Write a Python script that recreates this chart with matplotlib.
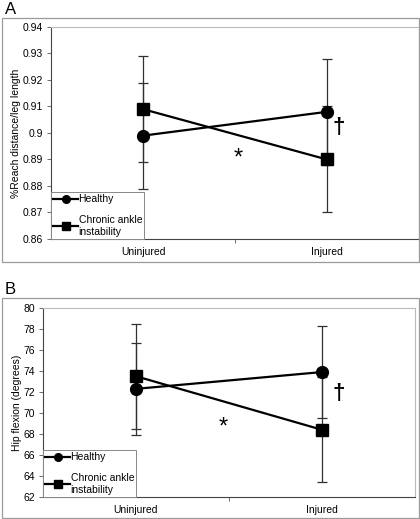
import matplotlib
matplotlib.use("Agg")
import matplotlib.pyplot as plt
from matplotlib.patches import Rectangle
from matplotlib.lines import Line2D

plt.rcParams['font.family'] = ['Liberation Sans', 'DejaVu Sans']

# ---- data ----
conditions = ["Uninjured", "Injured"]
groups = ["Healthy", "Chronic ankle\ninstability"]

reach_healthy = [0.899, 0.908]
reach_healthy_sd = [0.020, 0.020]
reach_cai = [0.909, 0.890]
reach_cai_sd = [0.020, 0.020]
reach_ticks = [0.86, 0.87, 0.88, 0.89, 0.90, 0.91, 0.92, 0.93, 0.94]
reach_ticklabels = ["0.86", "0.87", "0.88", "0.89", "0.9", "0.91", "0.92", "0.93", "0.94"]

hip_healthy = [72.3, 73.9]
hip_healthy_sd = [4.4, 4.4]
hip_cai = [73.5, 68.4]
hip_cai_sd = [5.0, 5.0]
hip_ticks = [62, 64, 66, 68, 70, 72, 74, 76, 78, 80]
hip_ticklabels = ["62", "64", "66", "68", "70", "72", "74", "76", "78", "80"]

W, H = 420, 519
fig = plt.figure(figsize=(W / 100, H / 100), dpi=100)
FS = 7.5


def fx(px):
    return px / W


def fy(py):
    return 1 - py / H


def frame(x0, y0, x1, y1):
    fig.patches.append(Rectangle((fx(x0), fy(y1)), fx(x1) - fx(x0), fy(y0) - fy(y1),
                                 transform=fig.transFigure, fill=False,
                                 edgecolor="#9a9a9a", linewidth=0.9))


def panel(rect, healthy, hsd, cai, csd, ticks, ticklabels, ylabel, star, dagger, letter, letter_xy):
    l, t, r, b = rect
    ax = fig.add_axes([fx(l), fy(b), fx(r) - fx(l), fy(t) - fy(b)])
    x = list(range(len(conditions)))
    ax.errorbar(x, healthy, yerr=hsd, fmt='none', ecolor='#303030', elinewidth=0.9,
                capsize=3.5, capthick=0.9, zorder=2)
    ax.errorbar(x, cai, yerr=csd, fmt='none', ecolor='#303030', elinewidth=0.9,
                capsize=3.5, capthick=0.9, zorder=2)
    ax.plot(x, cai, color='black', lw=1.6, marker='s', markersize=8.5, zorder=3)
    ax.plot(x, healthy, color='black', lw=1.6, marker='o', markersize=8.5, zorder=4)
    ax.set_xlim(-0.5, 1.5)
    ax.set_ylim(ticks[0], ticks[-1])
    ax.set_yticks(ticks)
    ax.set_yticklabels(ticklabels)
    ax.set_xticks(x)
    ax.set_xticklabels(conditions)
    ax.set_xticks([0.5], minor=True)
    ax.tick_params(axis='x', which='major', length=0, pad=6, labelsize=FS)
    ax.tick_params(axis='x', which='minor', length=3, width=0.6, color='#555555')
    ax.tick_params(axis='y', length=3, width=0.6, color='#555555', labelsize=FS, pad=3)
    for s in ['left', 'bottom']:
        ax.spines[s].set_color('#444444')
        ax.spines[s].set_linewidth(0.8)
    for s in ['top', 'right']:
        ax.spines[s].set_color('#bbbbbb')
        ax.spines[s].set_linewidth(0.8)
    ax.set_ylabel(ylabel, fontsize=FS, labelpad=1)
    ax.text(star[0], star[1], "*", fontsize=17, ha='center', va='center')
    ax.text(dagger[0], dagger[1], "\u2020", fontsize=16, ha='center', va='center',
            fontweight='bold')
    handles = [Line2D([], [], color='black', lw=1.6, marker='o', markersize=5.5),
               Line2D([], [], color='black', lw=1.6, marker='s', markersize=5.5)]
    leg = ax.legend(handles, groups, loc='lower left', bbox_to_anchor=(0, 0),
                    borderaxespad=0, fontsize=FS, handlelength=2.4, handletextpad=0.05,
                    labelspacing=1.05, fancybox=False, framealpha=1,
                    borderpad=0.2)
    leg.get_frame().set_edgecolor('#888888')
    leg.get_frame().set_linewidth(0.7)
    fig.text(fx(letter_xy[0]), fy(letter_xy[1]), letter, fontsize=12,
             ha='left', va='center')
    return ax


frame(2, 18, 419, 262)
frame(2, 298, 419, 518)

panel((51, 27, 419, 239), reach_healthy, reach_healthy_sd, reach_cai, reach_cai_sd,
      reach_ticks, reach_ticklabels, "%Reach distance/leg length",
      (0.52, 0.8905), (1.065, 0.9019), "A", (5, 9))
panel((43, 308, 415, 497), hip_healthy, hip_healthy_sd, hip_cai, hip_cai_sd,
      hip_ticks, hip_ticklabels, "Hip flexion (degrees)",
      (0.468, 68.6), (1.09, 71.9), "B", (5, 289))

fig.savefig("out.png", dpi=100)
